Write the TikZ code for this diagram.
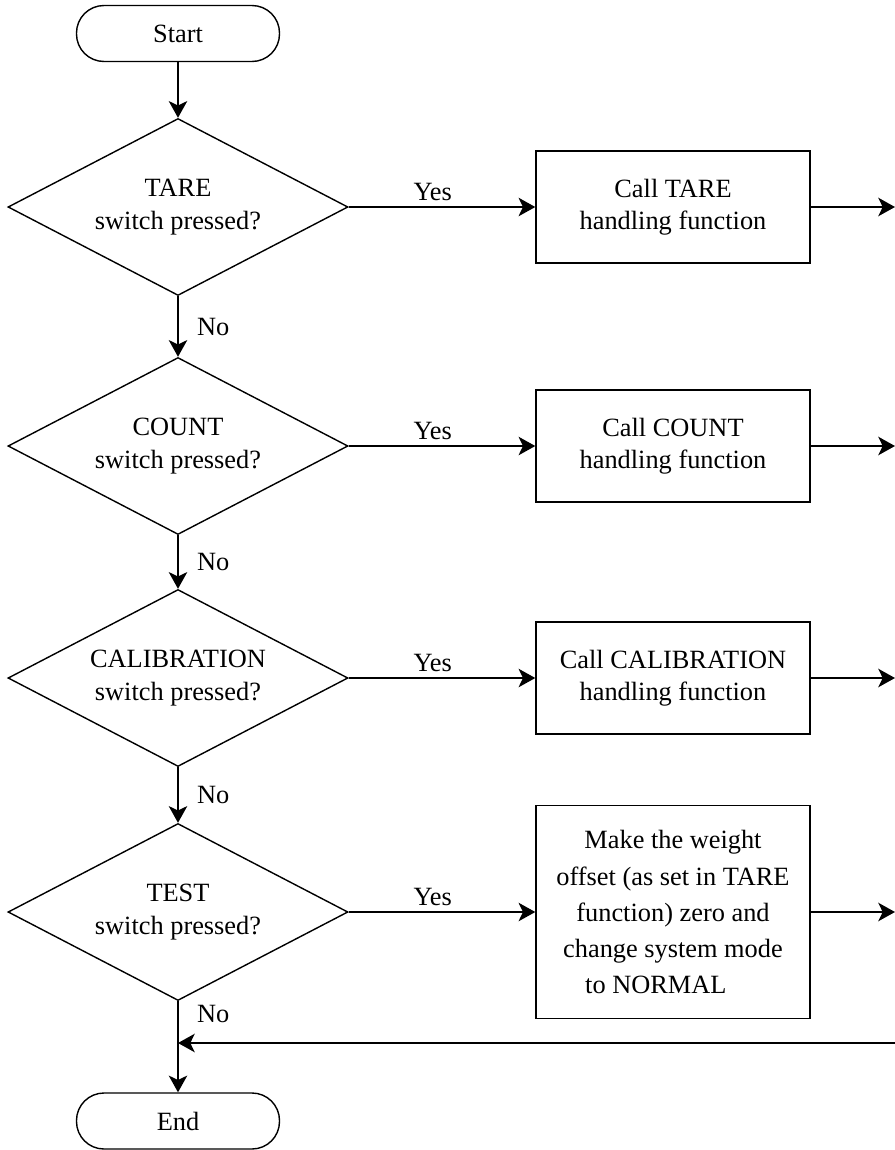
\documentclass[tikz,border=0pt]{standalone}
\usepackage{fontspec}
\setmainfont{Liberation Serif}
\usetikzlibrary{shapes,arrows,arrows.meta,positioning}
\tikzstyle{terminal} = [rectangle, draw, rounded corners=0.55cm,
    minimum width=4.06cm, minimum height=1.12cm, line width=0.8pt]
\tikzstyle{decision} = [diamond, draw, aspect=1.9, minimum width=6.8cm,
    minimum height=3.54cm, inner sep=0pt, align=center, line width=0.8pt]
\tikzstyle{handler} = [rectangle, draw, minimum width=5.48cm,
    minimum height=2.24cm, align=center, line width=0.8pt]
\tikzstyle{flow} = [draw, line width=1pt, -{Stealth[length=9.5pt,width=10.5pt,inset=2.5pt]}]

\begin{document}
\begin{tikzpicture}[node distance = 4.7cm, auto, font=\fontsize{15}{18.5}\selectfont]
    % frame of the page
    \useasboundingbox (-3.56,0.67) rectangle (14.34,-22.33);

    % Place nodes
    \node[terminal](start){Start};
    \node[decision, below of=start, node distance=3.47cm](tare){TARE\\switch pressed?};
    \node[decision, below of=tare, node distance=4.78cm](count){COUNT\\switch pressed?};
    \node[decision, below of=count, node distance=4.64cm](calib){CALIBRATION\\switch pressed?};
    \node[decision, below of=calib, node distance=4.68cm](test){TEST\\switch pressed?};
    \node[terminal, below of=test, node distance=4.18cm](finish){End};

    \node[handler, right of=tare, node distance=9.9cm](tareCall){Call TARE\\handling function};
    \node[handler, right of=count, node distance=9.9cm](countCall){Call COUNT\\handling function};
    \node[handler, right of=calib, node distance=9.9cm](calibCall){Call CALIBRATION\\handling function};
    \node[handler, right of=test, node distance=9.9cm, minimum height=4.26cm,
        font=\fontsize{15}{20.5}\selectfont](testCall){Make the weight\\offset (as set in TARE\\function) zero and\\change system mode\\to NORMAL\hspace*{1.3em}};

    % free ends at the right edge
    \coordinate (rim) at (14.34,0);
    \coordinate (tareOut) at (tareCall.east -| rim);
    \coordinate (countOut) at (countCall.east -| rim);
    \coordinate (calibOut) at (calibCall.east -| rim);
    \coordinate (testOut) at (testCall.east -| rim);
    \coordinate (loopIn) at (14.34,-20.19);
    \coordinate (loopJoin) at (loopIn -| test.south);

    \path[flow] (start) -- (tare);
    \path[flow] (tare) -- node[xshift=7pt]{No} (count);
    \path[flow] (count) -- node[xshift=7pt]{No} (calib);
    \path[flow] (calib) -- node[xshift=7pt]{No} (test);
    \path[flow] (test) -- node[pos=0.14, xshift=7pt]{No} (finish);

    \path[flow] (tare) -- node[pos=0.45]{Yes} (tareCall);
    \path[flow] (count) -- node[pos=0.45]{Yes} (countCall);
    \path[flow] (calib) -- node[pos=0.45]{Yes} (calibCall);
    \path[flow] (test) -- node[pos=0.45]{Yes} (testCall);

    \path[flow] (tareCall) -- (tareOut);
    \path[flow] (countCall) -- (countOut);
    \path[flow] (calibCall) -- (calibOut);
    \path[flow] (testCall) -- (testOut);
    \path[flow] (loopIn) -- (loopJoin);
\end{tikzpicture}
\end{document}
